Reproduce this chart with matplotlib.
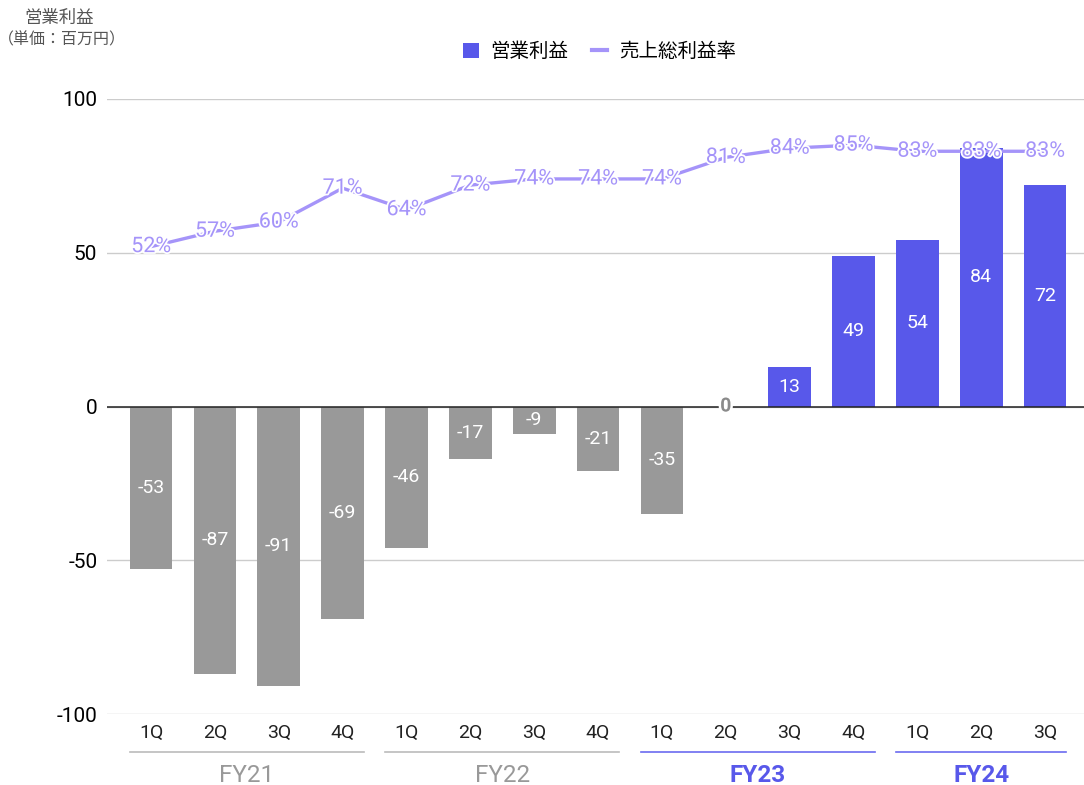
import matplotlib.pyplot as plt
import matplotlib.patheffects as pe
from matplotlib import transforms
from matplotlib.lines import Line2D
from matplotlib.patches import Patch

plt.rcParams['font.family'] = ['Roboto', 'Noto Sans CJK JP', 'DejaVu Sans']

# quarterly data
quarters = ['1Q', '2Q', '3Q', '4Q', '1Q', '2Q', '3Q', '4Q',
            '1Q', '2Q', '3Q', '4Q', '1Q', '2Q', '3Q']
fiscal_years = ['FY21', 'FY22', 'FY23', 'FY24']
quarters_per_year = [4, 4, 4, 3]
operating_profit = [-53, -87, -91, -69, -46, -17, -9, -21,
                    -35, 0, 13, 49, 54, 84, 72]
gross_margin = [52, 57, 60, 71, 64, 72, 74, 74,
                74, 81, 84, 85, 83, 83, 83]

BLUE = '#5858EA'
GRAY = '#999999'
LAVENDER = '#A594F9'
LINE_BLUE = '#6B6BF0'

fig = plt.figure(figsize=(10.84, 7.85), dpi=100)
ax = fig.add_axes([0.0987, 0.0904, 0.9013, 0.7835])

x = list(range(len(quarters)))
bar_colors = [BLUE if v > 0 else GRAY for v in operating_profit]
bars = ax.bar(x, operating_profit, width=0.67, color=bar_colors, zorder=2)

# bar value labels
for xi, v in zip(x, operating_profit):
    if v == 0:
        ax.text(xi, 0, '0', ha='center', va='center', fontsize=14,
                fontweight='bold', color='#8a8a8a', zorder=6,
                path_effects=[pe.withStroke(linewidth=3.5, foreground='white')])
    else:
        ax.text(xi, v / 2, str(v), ha='center', va='center', fontsize=14,
                color='white', zorder=3)

# gross margin line with labels
ax.plot(x, gross_margin, color=LAVENDER, linewidth=2.4, zorder=4,
        solid_capstyle='round')
for xi, m in zip(x, gross_margin):
    ax.text(xi, m, f'{m}%', ha='center', va='center', fontsize=15.5,
            color=LAVENDER, zorder=5,
            path_effects=[pe.withStroke(linewidth=2.5, foreground='white')])

ax.set_xlim(-0.69, 14.61)
ax.set_ylim(-100, 100)
ax.set_yticks([-100, -50, 0, 50, 100])
ax.set_yticklabels(['-100', '-50', '0', '50', '100'])
ax.tick_params(axis='y', length=0, pad=7, labelsize=15)
ax.set_xticks([])
for s in ax.spines.values():
    s.set_visible(False)
ax.grid(axis='y', color='#cccccc', linewidth=1, zorder=0)
ax.axhline(0, color='#222222', linewidth=1.1, zorder=3)
ax.set_axisbelow(True)

# quarter and fiscal year labels below the axis
tr = transforms.blended_transform_factory(ax.transData, fig.transFigure)
for xi, q in zip(x, quarters):
    fig.text(xi, 1 - 733 / 785, q, transform=tr, ha='center', va='center',
             fontsize=14, color='#222222')

start = 0
for fy, n in zip(fiscal_years, quarters_per_year):
    end = start + n - 1
    highlight = fy in ('FY23', 'FY24')
    col = LINE_BLUE if highlight else '#bbbbbb'
    fig.add_artist(Line2D([start - 0.33, end + 0.33], [1 - 752 / 785] * 2,
                          transform=tr, color=col, linewidth=1.2))
    fig.text((start + end) / 2, 1 - 775 / 785, fy, transform=tr,
             ha='center', va='center', fontsize=17.5,
             color=BLUE if highlight else '#999999',
             fontweight='bold' if highlight else 'normal')
    start += n

# axis title
fig.text(59 / 1084, 1 - 18 / 785, '営業利益', ha='center', va='center',
         fontsize=12.5, color='#555555')
fig.text(62 / 1084, 1 - 40 / 785, '（単価：百万円）', ha='center', va='center',
         fontsize=11.5, color='#555555')

# legend
handles = [Patch(facecolor=BLUE, edgecolor='none', label='営業利益'),
           Line2D([0], [0], color=LAVENDER, linewidth=3, label='売上総利益率')]
fig.legend(handles=handles, loc='center', bbox_to_anchor=(0.553, 1 - 52 / 785),
           ncol=2, frameon=False, fontsize=14, handlelength=0.8,
           handleheight=0.8, columnspacing=1.2, handletextpad=0.6)

fig.savefig('out.png', dpi=100)
